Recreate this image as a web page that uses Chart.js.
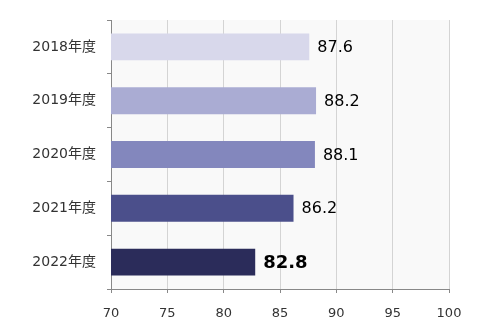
<!DOCTYPE html>
<html>
<head>
<meta charset="utf-8">
<script src="https://cdn.jsdelivr.net/npm/chart.js@4"></script>
<style>
  html, body { margin: 0; padding: 0; background: #fff; }
  #wrap { width: 500px; height: 330px; }
</style>
</head>
<body>
<div id="wrap"><canvas id="chart" width="500" height="330"></canvas></div>
<script>
const years = ["2018年度", "2019年度", "2020年度", "2021年度", "2022年度"];
const scores = [87.6, 88.2, 88.1, 86.2, 82.8];
const barColors = ["#d8d8eb", "#aaacd3", "#8387bd", "#4b4f8b", "#2b2c5a"];
const xTicks = [70, 75, 80, 85, 90, 95, 100];

const FONT = "'DejaVu Sans', 'Noto Sans CJK JP', sans-serif";

// light plot background
const plotBg = {
  id: "plotBg",
  beforeDraw(chart) {
    const { ctx, chartArea: a } = chart;
    ctx.save();
    ctx.fillStyle = "#f9f9f9";
    ctx.fillRect(a.left, a.top, a.right - a.left, a.bottom - a.top);
    ctx.restore();
  },
};

// value labels right of each bar, last one highlighted
const valueLabels = {
  id: "valueLabels",
  afterDatasetsDraw(chart) {
    const ctx = chart.ctx;
    const meta = chart.getDatasetMeta(0);
    ctx.save();
    ctx.fillStyle = "#000";
    ctx.textBaseline = "middle";
    ctx.textAlign = "left";
    meta.data.forEach((bar, i) => {
      const last = i === scores.length - 1;
      ctx.font = (last ? "bold 18px " : "16px ") + FONT;
      ctx.fillText(scores[i].toFixed(1), bar.x + 8, bar.y + 1);
    });
    ctx.restore();
  },
};

new Chart(document.getElementById("chart"), {
  type: "bar",
  data: {
    labels: years,
    datasets: [
      {
        data: scores,
        backgroundColor: barColors,
        barPercentage: 0.5,
        categoryPercentage: 1,
      },
    ],
  },
  options: {
    indexAxis: "y",
    responsive: false,
    animation: false,
    layout: { padding: { top: 20, right: 51, left: 0, bottom: 0 } },
    plugins: { legend: { display: false }, tooltip: { enabled: false } },
    scales: {
      x: {
        min: 70,
        max: 100,
        afterBuildTicks(axis) {
          axis.ticks = xTicks.map((v) => ({ value: v }));
        },
        afterFit(axis) {
          axis.height = 41;
        },
        grid: {
          color: "#d4d4d4",
          tickColor: "#888",
          tickLength: 4,
        },
        border: { color: "#888" },
        ticks: {
          color: "#333",
          padding: 13,
          font: { family: FONT, size: 13 },
        },
      },
      y: {
        afterFit(axis) {
          axis.width = 111;
        },
        grid: {
          drawOnChartArea: false,
          tickColor: "#888",
          tickLength: 4,
          offset: true,
        },
        border: { color: "#888" },
        ticks: {
          color: "#333",
          padding: 11,
          font: { family: FONT, size: 14 },
        },
      },
    },
  },
  plugins: [plotBg, valueLabels],
});
</script>
</body>
</html>
